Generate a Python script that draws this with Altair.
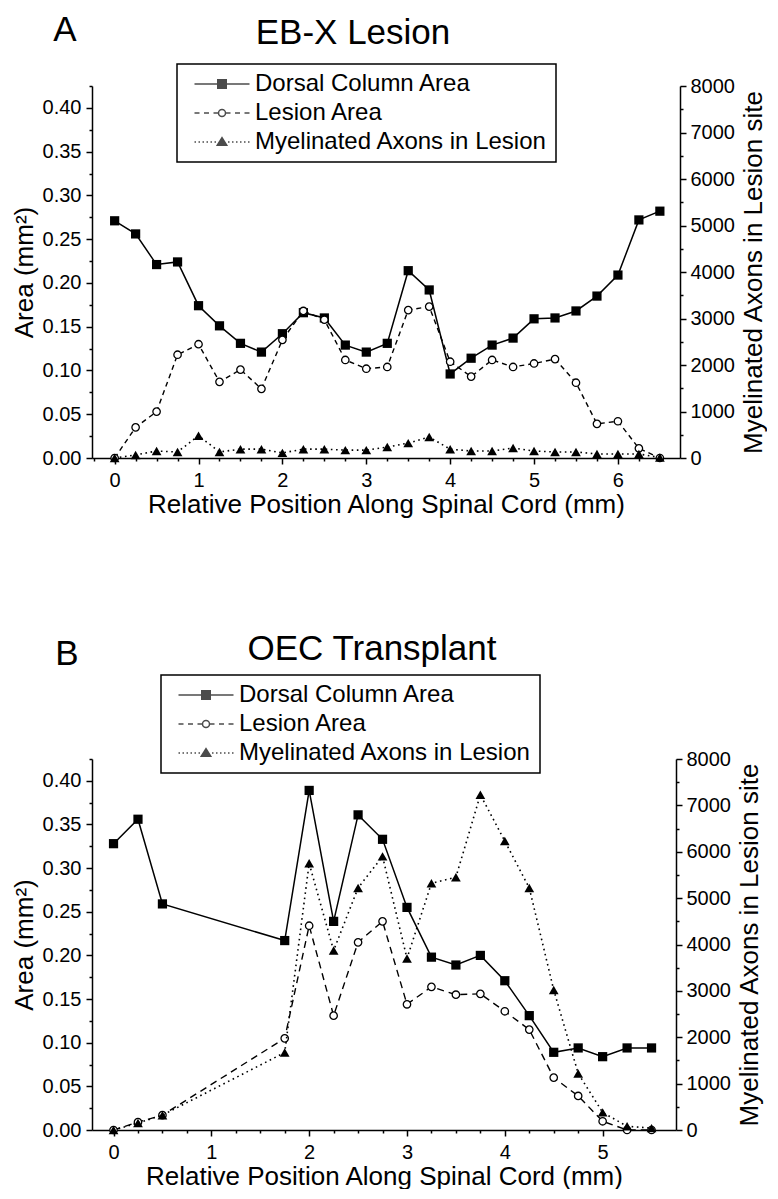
import altair as alt
import pandas as pd

# ---------------- data ----------------
legend_labels = ["Dorsal Column Area", "Lesion Area", "Myelinated Axons in Lesion"]

# Panel A: EB-X Lesion
a_pos = [0, 0.25, 0.5, 0.75, 1, 1.25, 1.5, 1.75, 2, 2.25, 2.5, 2.75, 3, 3.25,
         3.5, 3.75, 4, 4.25, 4.5, 4.75, 5, 5.25, 5.5, 5.75, 6, 6.25, 6.5]
a_dorsal = [0.271, 0.256, 0.221, 0.224, 0.174, 0.151, 0.131, 0.121, 0.142, 0.166,
            0.160, 0.129, 0.121, 0.131, 0.214, 0.192, 0.096, 0.114, 0.129, 0.137,
            0.159, 0.160, 0.168, 0.185, 0.209, 0.272, 0.282]
a_lesion = [0.0, 0.035, 0.053, 0.118, 0.130, 0.087, 0.101, 0.079, 0.135, 0.168,
            0.158, 0.112, 0.102, 0.104, 0.169, 0.173, 0.110, 0.093, 0.112, 0.104,
            0.108, 0.113, 0.086, 0.039, 0.042, 0.011, 0.0]
a_axons = [0, 65, 150, 130, 480, 130, 190, 190, 110, 190, 190, 170, 170, 235,
           320, 450, 190, 150, 150, 215, 150, 130, 130, 86, 86, 86, 10]

# Panel B: OEC Transplant
b_pos = [0, 0.25, 0.5, 1.75, 2, 2.25, 2.5, 2.75, 3, 3.25, 3.5, 3.75, 4, 4.25,
         4.5, 4.75, 5, 5.25, 5.5]
b_dorsal = [0.328, 0.356, 0.259, 0.217, 0.389, 0.239, 0.361, 0.333, 0.255, 0.198,
            0.189, 0.200, 0.171, 0.131, 0.089, 0.094, 0.084, 0.094, 0.094]
b_lesion = [0.0, 0.009, 0.017, 0.105, 0.234, 0.131, 0.215, 0.239, 0.144, 0.164,
            0.155, 0.156, 0.136, 0.115, 0.060, 0.039, 0.010, 0.0, 0.0]
b_axons = [0, 150, 320, 1670, 5750, 3870, 5220, 5900, 3700, 5320, 5450, 7230,
           6230, 5220, 3020, 1220, 380, 80, 40]

# tick values
area_ticks = [0.0, 0.025, 0.05, 0.075, 0.1, 0.125, 0.15, 0.175, 0.2, 0.225,
              0.25, 0.275, 0.3, 0.325, 0.35, 0.375, 0.4, 0.425]
axon_ticks = [0, 500, 1000, 1500, 2000, 2500, 3000, 3500, 4000, 4500, 5000,
              5500, 6000, 6500, 7000, 7500, 8000]
a_xticks = [-0.25, 0, 0.25, 0.5, 0.75, 1, 1.25, 1.5, 1.75, 2, 2.25, 2.5, 2.75, 3,
            3.25, 3.5, 3.75, 4, 4.25, 4.5, 4.75, 5, 5.25, 5.5, 5.75, 6, 6.25, 6.5]
b_xticks = [0, 0.25, 0.5, 0.75, 1, 1.25, 1.5, 1.75, 2, 2.25, 2.5, 2.75, 3,
            3.25, 3.5, 3.75, 4, 4.25, 4.5, 4.75, 5, 5.25, 5.5]
legend_fills = ["black", "white", "black"]

FONT = "Liberation Sans"

# legend symbols: line + marker drawn as custom paths (unit = 5 px at size 100)
sym_square = "M-5.5,0H5.5M-0.85,-0.85H0.85V0.85H-0.85Z"
sym_circle = ("M-5.5,0H-4.5M-3.6,0H-2.6M-1.7,0H-0.75"
              "M0.75,0H1.7M2.6,0H3.6M4.5,0H5.5"
              "M0.7,0A0.7,0.7 0 1,1 -0.7,0A0.7,0.7 0 1,1 0.7,0Z")
sym_tri = ("M-5.5,0h0.3M-4.7,0h0.3M-3.9,0h0.3M-3.1,0h0.3M-2.3,0h0.3M-1.5,0h0.3"
           "M1.2,0h0.3M2.0,0h0.3M2.8,0h0.3M3.6,0h0.3M4.4,0h0.3M5.2,0h0.3"
           "M0,-0.85L0.95,0.65H-0.95Z")


def make_legend(leg_x, leg_y):
    return alt.Legend(
        orient="none", legendX=leg_x, legendY=leg_y, title=None,
        labelFont=FONT, labelFontSize=24, labelColor="black", labelLimit=500,
        symbolSize=100, symbolStrokeWidth=1.5, symbolStrokeColor="black",
        symbolFillColor="black",
        symbolOffset=25, labelOffset=21, padding=8,
        rowPadding=5, strokeColor="black")


def panel(pos, dorsal, lesion, axons, xdom, xticks, width, height, title,
          title_dx, title_dy, letter, letter_x, letter_y, leg_x, leg_y, dash):
    df = pd.DataFrame({"pos": pos, "dorsal": dorsal, "lesion": lesion, "axons": axons})
    major_x = "abs(datum.value - round(datum.value)) < 0.001"
    x = alt.X("pos:Q",
              scale=alt.Scale(domain=xdom, nice=False, zero=False),
              axis=alt.Axis(values=xticks, title="Relative Position Along Spinal Cord (mm)",
                            labelExpr=f"{major_x} ? format(datum.value, 'd') : ''",
                            tickSize={"condition": {"test": major_x, "value": 6}, "value": 3},
                            labelOverlap=False, labelFlush=False, labelPadding=6,
                            titlePadding=1))
    major_y = "abs(datum.value * 20 - round(datum.value * 20)) < 0.001"
    y_left_scale = alt.Scale(domain=[0, 0.425], nice=False, zero=False)
    y_left_axis = alt.Axis(values=area_ticks, title="Area (mm²)", orient="left",
                           labelExpr=f"{major_y} ? format(datum.value, '.2f') : ''",
                           tickSize={"condition": {"test": major_y, "value": 6}, "value": 3},
                           labelOverlap=False, labelFlush=False, labelPadding=5,
                           titlePadding=5)
    major_r = "datum.value % 1000 == 0"
    y_right = alt.Y("axons:Q",
                    scale=alt.Scale(domain=[0, 8000], nice=False, zero=False),
                    axis=alt.Axis(values=axon_ticks, orient="right",
                                  title="Myelinated Axons in Lesion site",
                                  titleAngle=270, titleBaseline="top",
                                  labelExpr=f"{major_r} ? format(datum.value, 'd') : ''",
                                  tickSize={"condition": {"test": major_r, "value": 6}, "value": 3},
                                  labelOverlap=False, labelFlush=False, labelPadding=4,
                                  titlePadding=6))
    base = alt.Chart(df)
    d_line = base.mark_line(color="black", strokeWidth=1.5).encode(
        x=x, y=alt.Y("dorsal:Q", scale=y_left_scale, axis=y_left_axis))
    d_pts = base.mark_point(shape="square", filled=True, color="black", size=85,
                            opacity=1).encode(
        x=x, y=alt.Y("dorsal:Q", scale=y_left_scale, axis=y_left_axis))
    l_line = base.mark_line(color="black", strokeWidth=1.4, strokeDash=dash).encode(
        x=x, y=alt.Y("lesion:Q", scale=y_left_scale, axis=y_left_axis))
    l_pts = base.mark_point(shape="circle", filled=False, fill="white", stroke="black",
                            strokeWidth=1.3, size=55, opacity=1).encode(
        x=x, y=alt.Y("lesion:Q", scale=y_left_scale, axis=y_left_axis))
    m_line = base.mark_line(color="black", strokeWidth=1.6, strokeDash=[1.6, 3.6]).encode(
        x=x, y=y_right)
    m_pts = base.mark_point(shape="triangle-up", filled=True, color="black", size=95,
                            opacity=1).encode(x=x, y=y_right)

    leg_df = pd.DataFrame({"series": legend_labels})
    legend_layer = alt.Chart(leg_df).transform_filter("false").mark_point(
        filled=False, stroke="black").encode(
        shape=alt.Shape("series:N",
                        scale=alt.Scale(domain=legend_labels,
                                        range=[sym_square, sym_circle, sym_tri]),
                        legend=make_legend(leg_x, leg_y)),
        fill=alt.Fill("series:N",
                      scale=alt.Scale(domain=legend_labels, range=legend_fills),
                      legend=make_legend(leg_x, leg_y)))
    letter_layer = alt.Chart(pd.DataFrame({"t": [letter]})).mark_text(
        font=FONT, fontSize=35, align="center", baseline="alphabetic", color="black"
    ).encode(text="t:N", x=alt.value(letter_x), y=alt.value(letter_y))

    left = alt.layer(d_line, l_line, d_pts, l_pts, legend_layer, letter_layer)
    right = alt.layer(m_line, m_pts)
    return alt.layer(left, right).resolve_scale(y="independent").properties(
        width=width, height=height,
        title=alt.Title(title, font=FONT, fontSize=35, fontWeight="normal",
                        color="black", anchor="middle", dx=title_dx, dy=title_dy,
                        offset=4))


pA = panel(a_pos, a_dorsal, a_lesion, a_axons, [-0.27, 6.74], a_xticks, 588, 372,
           "EB-X Lesion", -33, 42, "A", -27, -45, 85, -22, [5, 4])
pB = panel(b_pos, b_dorsal, b_lesion, b_axons, [-0.22, 5.75], b_xticks, 584, 371,
           "OEC Transplant", -12, 34, "B", -25, -94, 69, -84, [7, 5])

chart = alt.vconcat(pA, pB, spacing=115).resolve_scale(
    x="independent", y="independent", shape="independent", fill="independent"
).resolve_legend(shape="independent", fill="independent").properties(
    padding={"left": 3, "top": 5, "right": 0, "bottom": 0}
).configure_view(stroke=None).configure_axis(
    domainColor="black", domainWidth=1.5, tickColor="black", tickWidth=1.5,
    labelColor="black", titleColor="black", labelFont=FONT, titleFont=FONT,
    labelFontSize=20, titleFontSize=26, titleFontWeight="normal", grid=False
).configure_legend(strokeWidth=1.5)

chart.save("out.html", embed_options={"renderer": "svg", "actions": False})
